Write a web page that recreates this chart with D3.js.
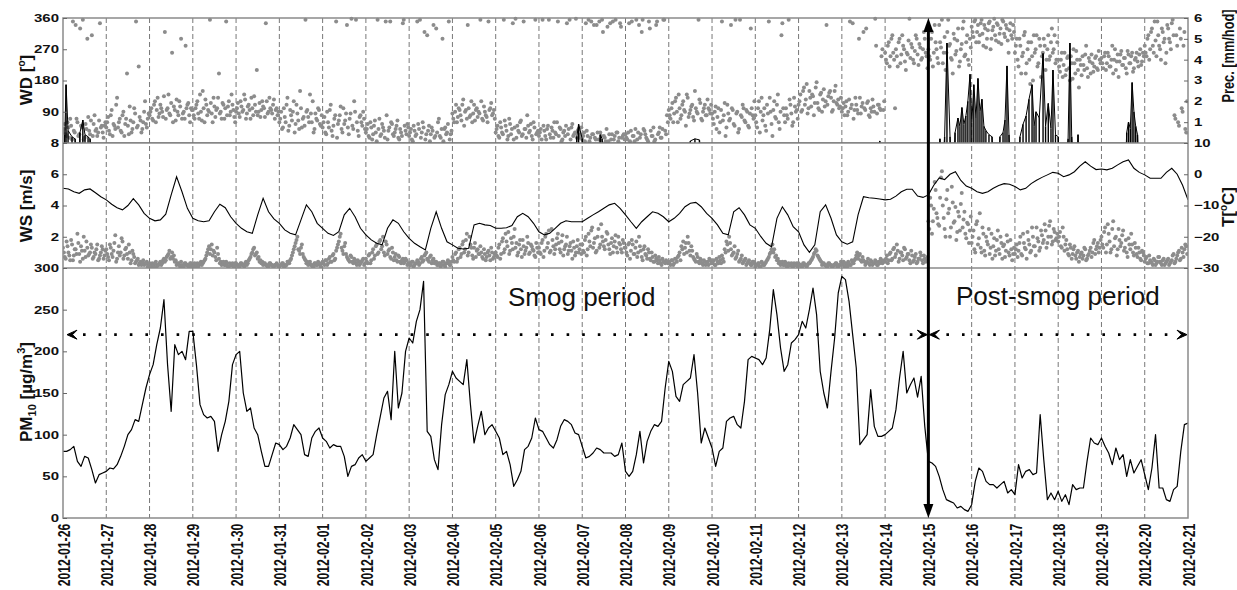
<!DOCTYPE html>
<html>
<head>
<meta charset="utf-8">
<script src="https://cdn.jsdelivr.net/npm/d3@7"></script>
<style>
  body { margin: 0; background: #fff; }
  svg { display: block; }
</style>
</head>
<body>
<div id="chart"></div>
<script>
// Smog episode Jan/Feb 2012: wind direction + precipitation, wind speed + temperature, PM10

const startDay = "2012-01-26", endDay = "2012-02-21", splitDay = "2012-02-15";

// tick values
const wdTicks = [90, 180, 270, 360];
const wsTicks = [2, 4, 6, 8];
const pmTicks = [0, 50, 100, 150, 200, 250, 300];
const precTicks = [1, 2, 3, 4, 5, 6];
const tTicks = [-30, -20, -10, 0, 10];
const limitPM = 220;   // level of the dotted period arrows

// PM10 [ug/m3], 12 readings per day (every 2 h)
const pm10 = [
  [80, 80, 82, 86, 68, 62, 74, 72, 58, 42, 52, 54],
  [56, 60, 59, 64, 74, 86, 100, 106, 118, 116, 136, 156],
  [172, 184, 208, 228, 262, 184, 128, 208, 196, 200, 190, 224],
  [224, 184, 136, 124, 120, 122, 116, 80, 100, 116, 140, 184],
  [196, 200, 150, 128, 132, 108, 100, 80, 62, 62, 76, 90],
  [88, 82, 86, 96, 112, 106, 100, 76, 74, 96, 104, 108],
  [96, 92, 84, 88, 86, 86, 74, 50, 62, 64, 72, 76],
  [68, 72, 76, 100, 122, 144, 152, 118, 200, 132, 150, 200],
  [216, 210, 236, 250, 284, 104, 98, 70, 58, 112, 148, 160],
  [176, 168, 164, 160, 190, 136, 90, 110, 128, 100, 108, 112],
  [104, 96, 76, 80, 64, 38, 46, 56, 82, 86, 96, 120],
  [106, 104, 96, 88, 84, 94, 110, 118, 116, 112, 102, 100],
  [86, 72, 74, 78, 84, 82, 78, 78, 78, 74, 76, 90],
  [56, 50, 56, 76, 104, 66, 92, 104, 112, 110, 116, 156],
  [188, 176, 146, 140, 160, 164, 168, 196, 150, 90, 108, 96],
  [84, 62, 80, 84, 116, 120, 122, 112, 108, 140, 190, 194],
  [192, 190, 184, 192, 226, 274, 244, 204, 176, 184, 210, 214],
  [220, 236, 228, 250, 276, 244, 176, 150, 132, 176, 216, 270],
  [290, 286, 260, 220, 180, 88, 94, 100, 154, 110, 98, 98],
  [100, 104, 108, 130, 168, 200, 150, 160, 168, 145, 170, 110],
  [68, 66, 62, 50, 34, 22, 20, 18, 12, 14, 10, 8],
  [16, 44, 60, 56, 44, 40, 40, 36, 40, 44, 30, 34],
  [28, 64, 48, 56, 58, 52, 54, 124, 70, 22, 30, 22],
  [32, 20, 28, 16, 40, 34, 36, 36, 68, 96, 90, 88],
  [96, 86, 78, 64, 84, 70, 76, 50, 70, 54, 62, 70],
  [52, 34, 60, 100, 36, 36, 22, 20, 34, 38, 80, 112]
];
const pm10Last = 114;

// air temperature [deg C], 8 readings per day (every 3 h)
const temp = [
  [-4.5, -4.7, -5.6, -6.1, -5.0, -4.7, -5.9, -7.2],
  [-8.2, -9.6, -10.7, -11.4, -10.0, -7.8, -9.8, -12.5],
  [-14.1, -14.9, -14.6, -12.8, -6.6, -0.8, -5.6, -10.9],
  [-14.1, -14.9, -15.2, -14.9, -12.0, -9.6, -10.7, -13.6],
  [-15.7, -17.3, -18.4, -18.9, -13.0, -7.7, -12.0, -14.3],
  [-15.7, -17.8, -18.9, -19.4, -14.6, -9.8, -12.0, -15.7],
  [-17.3, -18.9, -19.6, -18.4, -13.0, -10.9, -13.6, -17.3],
  [-19.4, -21.0, -22.1, -22.6, -17.3, -14.6, -15.7, -18.4],
  [-20.5, -22.1, -23.2, -24.2, -17.3, -12.0, -17.3, -21.6],
  [-22.6, -23.7, -23.9, -23.7, -16.2, -15.7, -16.2, -16.4],
  [-17.3, -17.3, -17.1, -16.4, -13.6, -12.5, -13.6, -15.7],
  [-18.4, -19.4, -18.9, -17.3, -15.7, -14.9, -15.2, -15.2],
  [-15.2, -14.1, -13.0, -12.0, -10.9, -9.8, -9.3, -10.9],
  [-13.0, -15.2, -17.3, -15.2, -13.6, -12.0, -12.5, -13.6],
  [-15.2, -14.1, -12.5, -10.4, -9.3, -9.0, -10.4, -12.5],
  [-14.1, -16.2, -18.9, -19.4, -12.0, -10.7, -13.0, -16.2],
  [-17.3, -19.9, -22.1, -23.2, -14.1, -10.4, -13.0, -16.8],
  [-18.4, -22.6, -25.0, -22.6, -12.0, -9.8, -14.1, -19.4],
  [-21.6, -22.4, -21.6, -13.0, -7.2, -7.5, -7.7, -7.9],
  [-8.2, -8.0, -7.0, -5.6, -4.8, -4.8, -7.0, -7.4],
  [-6.6, -3.5, -1.2, -1.7, 0.0, 0.8, -2.0, -3.8],
  [-4.5, -5.6, -6.1, -5.6, -4.5, -3.6, -3.0, -3.2],
  [-3.9, -5.0, -4.5, -3.0, -1.9, -1.0, -0.2, 0.6],
  [0.3, -0.8, -0.2, 0.8, 2.6, 4.0, 2.6, 1.5],
  [1.7, 1.4, 1.9, 3.0, 4.0, 4.6, 1.9, 0.6],
  [-0.2, -1.3, -1.3, -1.3, 0.6, 1.9, 0.0, -3.5]
];
const tempLast = -8.2;

// wind direction [deg], on the half hour
const wd = [
  [40,25,60,15,50,350,30,70,20,330,45,10,55,300,35,65,20,80,40,30,345,50,15,60],
  [60,35,80,20,50,110,45,70,30,90,55,200,25,65,40,100,350,50,75,30,60,120,45,85],
  [90,70,110,60,130,85,100,75,320,95,140,80,260,105,65,90,120,300,85,70,100,115,60,95],
  [80,100,120,70,90,150,60,110,95,355,85,130,75,100,200,90,115,70,350,105,80,140,95,60],
  [100,85,120,90,140,70,105,95,130,80,110,210,90,75,120,100,345,85,130,95,110,70,100,90],
  [70,40,100,60,130,50,80,90,30,110,65,150,45,75,355,95,60,85,120,40,70,100,55,80],
  [60,30,90,45,110,20,70,350,55,80,40,100,65,340,25,85,50,120,355,35,75,60,90,40],
  [40,20,60,10,50,30,355,70,25,45,15,80,35,350,55,20,40,65,10,30,345,50,25,45],
  [30,10,50,20,350,40,15,60,320,25,35,5,45,340,20,30,70,15,300,40,25,55,10,35],
  [70,90,60,100,80,110,50,95,340,75,120,85,65,100,90,355,70,105,80,60,95,115,85,70],
  [40,20,60,30,355,50,10,70,25,345,45,15,35,60,20,350,40,80,30,55,10,45,25,35],
  [30,10,50,20,40,355,15,35,60,25,350,45,5,30,20,345,40,10,55,25,358,35,15,45],
  [20,5,35,355,15,25,340,10,30,350,20,320,15,40,5,345,25,10,355,30,15,335,20,10],
  [15,30,5,350,20,40,10,340,25,355,35,15,5,330,20,45,10,350,30,15,40,355,25,60],
  [80,100,60,120,90,140,70,110,95,50,130,85,105,75,150,90,355,115,65,100,80,125,95,110],
  [70,90,40,100,60,350,80,20,110,65,340,95,50,85,30,355,75,100,60,90,45,330,80,120],
  [60,100,30,130,80,50,110,350,90,20,120,70,140,40,310,100,60,80,355,110,50,130,90,70],
  [120,90,150,110,170,100,130,140,80,160,115,95,145,125,105,340,135,150,90,120,165,110,100,130],
  [100,80,120,90,350,110,70,130,95,300,85,115,100,330,120,75,90,105,358,85,110,95,270,120],
  [240,280,220,300,260,100,250,290,230,310,270,210,255,358,285,240,265,300,225,275,245,320,260,215],
  [250,300,220,340,270,230,290,355,260,210,320,280,245,200,300,265,330,235,285,350,255,310,225,275],
  [320,350,290,340,310,355,280,330,300,345,270,325,358,295,340,315,285,350,305,330,260,345,300,320],
  [280,240,300,200,260,320,230,290,170,250,310,270,220,300,190,260,280,240,310,250,330,270,230,290],
  [220,240,190,260,210,250,180,230,270,200,240,160,225,250,210,280,190,235,255,205,245,215,265,230],
  [230,250,210,260,220,240,200,270,235,190,255,225,245,215,265,230,250,205,240,260,220,270,235,250],
  [260,300,240,320,280,350,250,310,270,330,290,230,340,300,270,355,80,310,60,330,100,280,40,120]
];
// wind direction [deg], on the full hour
const wd2 = [
  [30,55,20,45,70,10,35,340,60,25,50,355,15,40,75,25,310,55,35,20,65,45,30,50],
  [45,75,25,95,55,40,130,60,35,80,20,70,50,105,30,60,85,45,220,65,40,90,55,70],
  [80,100,65,120,95,75,110,90,135,70,100,85,115,60,95,125,80,105,70,90,280,110,80,100],
  [95,70,110,85,140,65,100,125,80,90,115,60,105,95,130,85,70,110,100,80,120,90,110,75],
  [90,115,75,105,95,125,85,110,70,100,135,90,80,115,95,105,75,120,90,100,85,125,95,80],
  [60,90,45,75,110,35,95,65,120,55,85,40,100,70,50,90,75,140,60,30,85,65,95,50],
  [45,75,25,60,95,35,50,80,15,65,105,30,55,85,45,70,358,40,90,60,20,80,50,70],
  [30,55,15,45,25,65,5,40,20,55,35,350,10,45,60,25,30,50,15,40,20,355,35,55],
  [20,40,5,35,25,55,355,30,45,10,310,50,25,35,15,330,60,20,40,5,45,30,350,25],
  [85,60,110,75,95,65,125,90,70,100,80,60,110,95,75,85,120,65,90,75,350,100,80,95],
  [30,50,15,45,25,65,35,20,55,40,10,358,50,30,65,25,40,15,50,35,20,60,355,30],
  [20,40,355,35,10,50,25,45,15,30,60,20,40,10,35,50,25,355,45,20,30,15,40,25],
  [10,30,345,20,5,350,25,15,340,10,30,355,20,5,335,25,10,350,20,30,5,345,15,25],
  [25,10,345,35,20,5,355,30,15,320,40,25,10,350,35,20,5,340,25,45,15,355,35,80],
  [95,70,115,85,130,60,100,80,120,90,140,75,95,110,65,100,85,125,70,90,110,80,100,85],
  [85,55,105,75,30,95,65,115,45,85,70,100,55,355,90,40,80,110,65,95,50,85,100,70],
  [80,45,120,90,65,100,35,85,130,55,95,75,110,60,90,345,80,100,70,125,85,60,105,95],
  [110,140,95,160,125,85,150,105,135,115,175,100,140,90,155,120,110,145,130,95,150,115,125,105],
  [90,115,105,80,125,100,345,95,110,85,130,105,320,95,115,80,100,125,90,280,110,100,250,95],
  [260,230,290,250,310,240,270,220,300,255,280,235,260,295,245,275,230,310,255,285,240,270,300,250],
  [270,240,320,260,290,245,340,275,230,305,260,355,285,240,315,255,295,220,270,330,250,290,240,300],
  [335,305,355,320,290,345,315,340,275,325,350,300,335,310,345,290,330,355,315,340,295,325,310,340],
  [260,300,220,280,250,310,200,270,240,290,180,260,310,230,280,250,300,210,270,240,290,260,310,240],
  [240,205,260,225,195,245,215,250,185,230,265,210,240,195,225,255,215,245,200,230,220,250,210,240],
  [245,215,260,230,250,220,280,240,210,255,235,265,225,245,200,255,230,260,215,245,235,255,225,260],
  [280,250,310,270,330,260,295,350,280,240,320,300,260,330,290,345,310,70,280,50,300,90,320,30]
];

// wind speed [m/s], on the half hour
const ws = [
  [1.0,0.6,1.4,0.8,1.8,0.5,1.2,0.9,1.6,0.4,1.1,2.0,0.7,1.3,0.9,1.5,0.6,1.0,1.2,0.5,0.8,1.4,0.6,1.1],
  [0.9,0.5,1.3,0.7,1.6,0.4,1.0,0.8,1.9,0.6,1.2,0.9,1.5,0.3,1.1,0.7,0.4,0.6,0.3,0.2,0.5,0.3,0.4,0.2],
  [0.2,0.3,0.1,0.4,0.2,0.3,0.2,0.5,0.4,0.7,0.9,0.6,1.0,0.8,0.5,0.3,0.2,0.4,0.1,0.3,0.2,0.1,0.3,0.2],
  [0.2,0.1,0.3,0.2,0.4,0.3,0.5,0.8,1.2,0.9,1.5,1.1,0.7,1.3,0.6,0.4,0.3,0.2,0.4,0.1,0.3,0.2,0.1,0.3],
  [0.2,0.1,0.3,0.2,0.1,0.4,0.3,0.6,0.9,1.2,0.8,1.0,0.7,0.5,0.4,0.3,0.2,0.1,0.3,0.2,0.1,0.2,0.3,0.1],
  [0.2,0.3,0.1,0.2,0.4,0.3,0.6,1.0,1.4,1.8,1.2,0.9,1.5,0.7,0.5,0.4,0.3,0.2,0.1,0.3,0.2,0.4,0.2,0.3],
  [0.3,0.5,0.2,0.6,0.4,0.8,0.5,1.1,1.5,2.0,1.3,0.9,1.6,0.7,0.5,0.8,0.4,0.6,0.3,0.5,0.2,0.4,0.6,0.3],
  [0.4,0.8,0.3,1.0,0.6,1.4,0.9,1.7,1.2,2.0,0.8,1.5,1.1,0.7,1.3,0.5,0.9,0.4,0.7,0.3,0.6,0.4,0.5,0.3],
  [0.2,0.4,0.1,0.3,0.5,0.2,0.6,0.4,0.8,1.0,0.5,0.7,0.3,0.6,0.4,0.2,0.3,0.1,0.4,0.2,0.3,0.5,0.2,0.4],
  [0.5,0.9,0.4,1.2,0.7,1.5,1.0,1.8,0.8,2.0,1.3,0.6,1.6,1.1,0.9,1.4,0.7,1.2,0.5,1.0,0.8,1.3,0.6,0.9],
  [0.8,1.3,0.6,1.7,1.0,2.2,1.4,0.9,1.9,1.2,2.5,1.6,1.0,1.8,0.7,1.4,1.1,2.0,0.9,1.5,1.2,0.8,1.6,1.0],
  [1.0,1.6,0.7,2.0,1.3,2.4,1.1,1.8,0.9,1.5,2.2,1.2,1.7,0.8,1.4,2.0,1.1,1.6,0.6,1.3,1.0,1.8,1.2,0.9],
  [1.1,1.8,0.8,2.2,1.4,2.6,1.6,1.0,2.0,1.3,2.8,1.7,1.2,2.3,1.5,0.9,1.9,1.4,2.1,1.0,1.6,1.2,1.8,1.3],
  [1.0,1.5,0.6,1.8,0.9,1.3,0.7,2.0,1.1,0.5,1.4,0.8,1.2,0.6,1.0,0.4,0.8,0.5,0.7,0.3,0.6,0.4,0.5,0.3],
  [0.3,0.5,0.2,0.6,0.4,0.8,0.5,1.2,0.9,1.6,2.0,1.1,1.4,0.7,0.5,0.9,0.4,0.6,0.3,0.5,0.2,0.4,0.6,0.3],
  [0.4,0.2,0.6,0.3,0.5,0.8,0.4,1.0,1.5,2.0,1.2,0.9,1.4,0.7,1.1,0.5,0.8,0.4,0.6,0.3,0.5,0.2,0.4,0.3],
  [0.2,0.3,0.1,0.4,0.2,0.3,0.5,0.7,1.0,1.5,1.2,0.8,0.6,0.4,0.3,0.2,0.4,0.1,0.3,0.2,0.1,0.3,0.2,0.1],
  [0.2,0.1,0.3,0.2,0.1,0.3,0.4,0.6,0.9,1.2,0.8,0.6,0.4,0.3,0.2,0.1,0.3,0.2,0.1,0.2,0.3,0.1,0.2,0.4],
  [0.3,0.1,0.2,0.4,0.2,0.5,0.3,0.6,1.0,0.8,0.5,0.7,0.4,0.3,0.6,0.2,0.4,0.3,0.5,0.2,0.4,0.6,0.3,0.5],
  [0.6,0.3,0.9,0.5,1.2,0.7,1.5,0.4,1.0,0.8,1.3,0.6,0.9,0.5,1.1,0.4,0.7,0.3,0.6,1.0,0.5,0.8,0.4,0.7],
  [2.5,4.0,3.0,5.5,3.5,2.8,4.5,6.2,3.2,2.0,5.0,3.8,2.6,4.2,3.0,1.8,3.6,2.4,4.8,3.1,2.2,2.9,1.6,3.3],
  [2.0,1.2,2.8,1.5,3.5,1.0,2.2,0.8,1.7,2.5,1.3,0.6,1.9,1.1,2.4,0.9,1.6,1.4,0.7,2.1,1.0,1.8,0.5,1.3],
  [1.2,0.7,1.6,0.9,2.2,1.3,0.6,1.8,1.0,2.6,1.4,0.8,1.9,1.1,2.4,1.6,2.8,1.3,2.0,3.0,1.5,2.5,1.8,2.2],
  [2.0,1.4,2.6,1.1,1.8,0.9,1.5,0.6,1.2,0.8,1.0,0.4,0.9,0.6,1.3,0.5,0.8,1.1,0.7,1.6,0.9,1.4,1.0,1.8],
  [1.5,2.3,1.0,2.8,1.7,1.2,3.0,1.9,0.8,2.5,1.4,2.1,1.1,1.8,0.7,1.5,2.2,1.0,1.6,0.9,1.3,0.6,1.1,0.8],
  [0.6,0.3,0.8,0.4,0.2,0.5,0.3,0.7,0.4,0.2,0.6,0.3,0.5,0.2,0.4,0.8,0.3,0.6,1.0,0.5,1.3,0.7,1.5,0.9]
];
// wind speed [m/s], on the full hour
const ws2 = [
  [1.3,0.7,1.7,1.0,0.5,1.5,0.8,1.2,2.2,0.9,1.4,0.6,1.1,1.7,0.8,1.0,1.3,0.7,0.9,1.5,0.6,1.0,1.2,0.8],
  [1.2,0.7,1.5,0.9,1.1,2.1,0.6,1.4,1.0,1.7,0.8,1.3,0.6,1.0,0.5,0.9,0.3,0.5,0.2,0.4,0.3,0.2,0.3,0.1],
  [0.3,0.1,0.2,0.3,0.1,0.2,0.4,0.3,0.6,0.5,0.8,1.1,0.7,0.6,0.4,0.2,0.3,0.1,0.2,0.1,0.3,0.2,0.1,0.3],
  [0.1,0.3,0.2,0.1,0.3,0.2,0.4,0.6,1.0,1.4,1.2,0.8,1.0,0.5,0.9,0.3,0.2,0.4,0.2,0.3,0.1,0.2,0.3,0.1],
  [0.3,0.2,0.1,0.3,0.2,0.3,0.2,0.5,0.7,1.0,1.3,0.9,0.6,0.4,0.3,0.2,0.3,0.2,0.1,0.3,0.2,0.1,0.2,0.2],
  [0.1,0.2,0.3,0.1,0.2,0.4,0.5,0.8,1.2,1.6,2.0,1.1,1.3,0.9,0.6,0.3,0.2,0.4,0.2,0.1,0.3,0.2,0.3,0.1],
  [0.4,0.2,0.5,0.3,0.7,0.4,0.9,0.6,1.3,1.7,2.2,1.1,1.4,0.9,0.6,0.4,0.7,0.3,0.5,0.2,0.4,0.3,0.5,0.2],
  [0.6,0.3,0.9,0.5,1.2,0.8,1.5,1.0,1.8,1.4,1.0,1.7,0.9,1.2,0.6,1.0,0.7,0.5,0.8,0.4,0.5,0.3,0.6,0.2],
  [0.3,0.2,0.4,0.2,0.3,0.4,0.3,0.7,0.5,0.9,0.6,0.4,0.8,0.5,0.3,0.4,0.2,0.3,0.2,0.4,0.1,0.3,0.4,0.2],
  [0.7,0.4,1.0,0.6,1.3,0.9,1.7,1.2,2.2,1.0,1.5,0.8,1.3,0.7,1.2,0.9,1.0,0.6,0.9,0.7,1.1,0.5,1.0,0.7],
  [1.0,0.7,1.5,0.9,1.9,1.2,1.7,2.3,1.1,1.6,2.0,1.3,0.8,1.5,1.2,1.8,0.9,1.3,1.6,1.0,1.4,1.1,0.7,1.3],
  [1.3,0.9,1.8,1.1,2.2,1.6,1.0,2.5,1.4,1.2,1.9,1.6,1.0,2.1,1.2,1.5,0.9,1.4,1.1,1.7,0.8,1.4,1.0,1.5],
  [1.5,1.0,2.0,1.2,1.7,2.4,1.3,1.9,1.1,2.5,1.5,2.0,1.4,1.8,2.2,1.2,1.6,1.0,1.7,1.3,2.0,1.5,1.0,1.6],
  [1.3,0.8,1.6,1.1,1.5,0.9,1.7,1.0,1.4,0.7,1.2,0.9,0.6,1.0,0.5,0.7,0.4,0.6,0.3,0.5,0.2,0.4,0.3,0.4],
  [0.4,0.2,0.5,0.3,0.6,0.7,1.0,1.4,1.7,1.3,1.0,1.6,0.8,1.1,0.6,0.4,0.7,0.3,0.5,0.2,0.4,0.3,0.2,0.5],
  [0.3,0.5,0.2,0.4,0.7,0.3,0.6,1.2,1.7,1.1,1.6,0.8,1.0,0.6,0.9,0.4,0.6,0.3,0.5,0.2,0.4,0.3,0.2,0.4],
  [0.1,0.2,0.3,0.1,0.3,0.2,0.4,0.6,0.9,1.2,1.0,0.7,0.5,0.3,0.2,0.4,0.2,0.3,0.1,0.2,0.3,0.1,0.2,0.3],
  [0.3,0.2,0.1,0.3,0.2,0.2,0.3,0.5,0.7,1.0,1.1,0.7,0.5,0.2,0.3,0.2,0.1,0.3,0.2,0.1,0.2,0.3,0.1,0.2],
  [0.2,0.4,0.3,0.1,0.3,0.2,0.4,0.5,0.8,0.6,0.9,0.4,0.5,0.2,0.4,0.3,0.5,0.2,0.3,0.4,0.2,0.3,0.5,0.4],
  [0.4,0.8,0.5,1.0,0.6,1.3,0.9,1.1,0.6,1.0,0.5,1.2,0.7,0.9,0.3,0.8,0.5,0.9,0.4,0.6,0.8,0.3,0.6,0.5],
  [3.0,4.5,2.2,3.8,5.0,3.2,2.7,5.8,4.0,2.5,4.4,3.5,2.0,5.2,2.9,3.9,2.3,3.3,4.1,2.6,3.6,1.9,2.8,2.4],
  [1.6,2.4,1.0,3.0,1.9,1.3,2.6,1.1,2.0,1.5,0.9,2.2,1.4,0.8,1.8,1.2,2.0,0.6,1.5,1.1,1.7,0.8,1.2,0.9],
  [0.9,1.5,1.1,2.0,0.8,1.6,1.2,2.3,1.5,1.1,2.0,1.4,2.6,1.7,1.3,2.1,1.8,2.4,1.6,2.7,2.0,1.7,2.3,1.9],
  [1.7,2.3,1.3,2.0,1.5,1.2,0.8,1.3,0.9,1.4,0.6,1.1,0.7,1.0,0.8,1.2,0.6,0.9,1.3,1.0,1.8,1.2,1.6,1.3],
  [2.0,1.3,2.6,1.5,2.2,1.0,2.5,1.4,2.0,1.2,1.8,1.6,2.4,1.3,1.0,1.9,1.2,1.5,0.8,1.3,0.7,1.0,0.5,1.0],
  [0.4,0.7,0.3,0.5,0.3,0.6,0.2,0.4,0.7,0.3,0.5,0.2,0.4,0.6,0.3,0.5,0.9,0.4,0.8,1.1,0.6,1.0,1.2,1.4]
];

// precipitation [mm/hod]: hours since start, amount
const precHour = [1, 1.7, 2.8, 5, 6.7, 9.4, 11, 12.2, 13.9, 15, 285, 286, 288, 298, 299, 348, 350.5, 353, 453,
  486.4, 489, 490.3, 492, 494.8, 496.4, 497.5, 498.6, 499.7, 500.8, 501.9, 503.1, 504.1, 505.2, 506.4, 507.5, 508.6, 509.7, 510.8, 511.9, 513.6, 515.3,
  519.7, 521.4, 522.5, 523.6, 524.7,
  530.8, 532.5, 534.2, 535.8, 537.5, 538.6, 539.7, 541.5, 543.6, 545, 546.5, 548, 549.1, 550.5, 552,
  557.5, 558.5, 559.5, 563,
  590, 591, 592, 593, 594, 595, 596];
const precMM = [0.4, 2.8, 0.6, 0.3, 0.2, 0.5, 1.1, 0.4, 0.3, 0.2, 0.3, 0.9, 0.2, 0.4, 0.2, 0.1, 0.2, 0.15, 0.1,
  0.2, 0.3, 4.8, 0.3, 0.5, 1.2, 0.8, 1.7, 0.9, 1.3, 2.0, 3.3, 1.0, 2.8, 1.2, 3.1, 1.5, 2.1, 0.8, 0.6, 0.4, 0.3,
  0.3, 0.5, 1.1, 3.7, 0.4,
  0.3, 0.9, 1.3, 2.1, 2.8, 0.8, 1.5, 1.2, 4.3, 0.8, 1.9, 0.7, 3.5, 0.4, 0.3,
  0.2, 4.8, 0.3, 0.4,
  0.5, 1.0, 0.7, 2.9, 1.5, 0.8, 0.4];

// ---------------- layout ----------------
const width = 1237, height = 590;
const left = 63, right = 1188;
const yTop = 18, yA = 143, yB = 268, yBot = 518;
const dotColor = "#8c8c8c", frameColor = "#8a8a8a";
const squash = 0.72;   // the original picture is flattened vertically

const parseDay = d3.utcParse("%Y-%m-%d");
const t0 = parseDay(startDay), t1 = parseDay(endDay), tSplit = parseDay(splitDay);
const atHour = h => new Date(+t0 + h * 3600e3);

// flatten per-day arrays into {t, v}; shift = hours added to each reading
const byDay = (arr, last, shift = 0) => {
  const out = [];
  arr.forEach((day, d) => day.forEach((v, j) => out.push({ t: atHour(d * 24 + j * 24 / day.length + shift), v })));
  if (last !== undefined) out.push({ t: atHour(arr.length * 24), v: last });
  return out;
};
const pmData = byDay(pm10, pm10Last);
const tData = byDay(temp, tempLast);
const wdData = byDay(wd, undefined, 0.5).concat(byDay(wd2, undefined, 0));
const wsData = byDay(ws, undefined, 0.5).concat(byDay(ws2, undefined, 0));
const precData = precHour.map((h, i) => ({ h, v: precMM[i] }));

// precipitation trace: back to zero where readings are more than 2.5 h apart
const precTrace = [];
precData.forEach((d, i) => {
  const prev = precData[i - 1], next = precData[i + 1];
  if (!prev || d.h - prev.h > 2.5) precTrace.push({ h: d.h - 0.2, v: 0 });
  precTrace.push(d);
  if (!next || next.h - d.h > 2.5) precTrace.push({ h: d.h + 0.2, v: 0 });
});

const x = d3.scaleUtc().domain([t0, t1]).range([left, right]);
const yWD = d3.scaleLinear().domain([0, 360]).range([yA, yTop]);
const yPrec = d3.scaleLinear().domain([0, 6]).range([yA, yTop]);
const yWS = d3.scaleLinear().domain([0, 8]).range([yB, yA]);
const yT = d3.scaleLinear().domain([-30, 10]).range([yB, yA]);
const yPM = d3.scaleLinear().domain([0, 300]).range([yBot, yB]);

const svg = d3.select("#chart").append("svg")
    .attr("width", width)
    .attr("height", height)
    .style("font-family", "'Liberation Sans', Arial, sans-serif");

// clip paths for the panels
const defs = svg.append("defs");
[["clipTop", yTop, yA], ["clipMid", yA, yB], ["clipBot", yB, yBot]].forEach(([id, a, b]) => {
  defs.append("clipPath").attr("id", id)
    .append("rect").attr("x", left).attr("y", a - 2).attr("width", right - left).attr("height", b - a + 2);
});

// day grid lines (dashed)
svg.append("g")
  .selectAll("line")
  .data(d3.utcDay.range(d3.utcDay.offset(t0, 1), t1))
  .join("line")
    .attr("x1", d => x(d)).attr("x2", d => x(d))
    .attr("y1", yTop).attr("y2", yBot)
    .attr("stroke", "#555")
    .attr("stroke-width", 0.8)
    .attr("stroke-dasharray", "5,3");

// wind direction dots
svg.append("g").attr("clip-path", "url(#clipTop)")
  .selectAll("circle")
  .data(wdData)
  .join("circle")
    .attr("cx", d => x(d.t))
    .attr("cy", d => yWD(d.v))
    .attr("r", 2)
    .attr("fill", dotColor);

// precipitation: zig-zag trace + sticks
svg.append("path")
    .datum(precTrace)
    .attr("clip-path", "url(#clipTop)")
    .attr("fill", "none")
    .attr("stroke", "#000")
    .attr("stroke-width", 1)
    .attr("d", d3.line().x(d => x(atHour(d.h))).y(d => yPrec(d.v)));
svg.append("g").attr("clip-path", "url(#clipTop)")
  .selectAll("line")
  .data(precData)
  .join("line")
    .attr("x1", d => x(atHour(d.h))).attr("x2", d => x(atHour(d.h)))
    .attr("y1", yPrec(0)).attr("y2", d => yPrec(d.v))
    .attr("stroke", "#000")
    .attr("stroke-width", 1.4);

// wind speed dots
svg.append("g").attr("clip-path", "url(#clipMid)")
  .selectAll("circle")
  .data(wsData)
  .join("circle")
    .attr("cx", d => x(d.t))
    .attr("cy", d => yWS(d.v))
    .attr("r", 2)
    .attr("fill", dotColor);

// temperature line
svg.append("path")
    .datum(tData)
    .attr("clip-path", "url(#clipMid)")
    .attr("fill", "none")
    .attr("stroke", "#000")
    .attr("stroke-width", 1.1)
    .attr("d", d3.line().x(d => x(d.t)).y(d => yT(d.v)));

// PM10 line
svg.append("path")
    .datum(pmData)
    .attr("clip-path", "url(#clipBot)")
    .attr("fill", "none")
    .attr("stroke", "#000")
    .attr("stroke-width", 1.2)
    .attr("stroke-linejoin", "round")
    .attr("d", d3.line().x(d => x(d.t)).y(d => yPM(d.v)));

// frame and panel separators
svg.append("rect")
    .attr("x", left).attr("y", yTop)
    .attr("width", right - left).attr("height", yBot - yTop)
    .attr("fill", "none")
    .attr("stroke", frameColor)
    .attr("stroke-width", 1.5);
[yA, yB].forEach(yy => svg.append("line")
    .attr("x1", left).attr("x2", right).attr("y1", yy).attr("y2", yy)
    .attr("stroke", frameColor).attr("stroke-width", 1.5));

// axes
function styleAxis(g) {
  g.select(".domain").remove();
  g.selectAll(".tick line").attr("stroke", "#666");
  g.selectAll(".tick text")
    .attr("font-size", 15)
    .attr("font-weight", "bold")
    .attr("fill", "#111")
    .attr("transform", `scale(1,${squash})`);
}
const intFmt = d3.format("d");
svg.append("g").attr("transform", `translate(${left},0)`)
  .call(d3.axisLeft(yWD).tickValues(wdTicks).tickFormat(intFmt).tickSize(-4).tickPadding(4)).call(styleAxis);
svg.append("g").attr("transform", `translate(${left},0)`)
  .call(d3.axisLeft(yWS).tickValues(wsTicks).tickFormat(intFmt).tickSize(-4).tickPadding(4)).call(styleAxis);
svg.append("g").attr("transform", `translate(${left},0)`)
  .call(d3.axisLeft(yPM).tickValues(pmTicks).tickFormat(intFmt).tickSize(-4).tickPadding(4)).call(styleAxis);
svg.append("g").attr("transform", `translate(${right},0)`)
  .call(d3.axisRight(yPrec).tickValues(precTicks).tickFormat(intFmt).tickSize(-4).tickPadding(6)).call(styleAxis);
svg.append("g").attr("transform", `translate(${right},0)`)
  .call(d3.axisRight(yT).tickValues(tTicks).tickFormat(intFmt).tickSize(-4).tickPadding(6)).call(styleAxis);

// date labels
const xAxis = svg.append("g").attr("transform", `translate(0,${yBot})`)
  .call(d3.axisBottom(x).ticks(d3.utcDay.every(1)).tickFormat(d3.utcFormat("%Y-%m-%d")).tickSize(0));
xAxis.select(".domain").remove();
xAxis.selectAll(".tick text")
    .attr("font-size", 17)
    .attr("font-weight", "bold")
    .attr("fill", "#111")
    .attr("text-anchor", "end")
    .attr("x", -8)
    .attr("y", 0)
    .attr("dy", "0.36em")
    .attr("transform", `rotate(-90) scale(${squash},1)`);

// axis titles (rotated)
function vTitle(xb, yc, parts, size, k) {
  const t = svg.append("text")
    .attr("transform", `translate(${xb},${yc}) rotate(-90) scale(${k},1)`)
    .attr("text-anchor", "middle")
    .attr("font-size", size)
    .attr("font-weight", "bold")
    .attr("fill", "#111");
  parts.forEach(p => t.append("tspan").attr("dy", p.dy || 0).attr("font-size", p.s || null).text(p.t));
}
vTitle(32, 80, [{ t: "WD [" }, { t: "o", s: 10, dy: -7 }, { t: "]", dy: 7 }], 17, 1);
vTitle(32, 206, [{ t: "WS [m/s]" }], 17, 1);
vTitle(32, 392, [{ t: "PM" }, { t: "10", s: 11, dy: 4 }, { t: " [µg/m", dy: -4 }, { t: "3", s: 11, dy: -7 }, { t: "]", dy: 7 }], 17, 1);
vTitle(1234, 56, [{ t: "Prec.  [mm/hod]" }], 16, 0.8);
vTitle(1234, 207, [{ t: "T[" }, { t: "o", s: 10, dy: -7 }, { t: "C]", dy: 7 }], 17, 1);

// period arrows
const xSplit = x(tSplit);
const yLim = yPM(limitPM);
function dotted(xa, xb) {
  svg.append("line")
    .attr("x1", xa).attr("x2", xb).attr("y1", yLim).attr("y2", yLim)
    .attr("stroke", "#000").attr("stroke-width", 2.6)
    .attr("stroke-dasharray", "2.6,13");
}
function head(tipX, dir) {
  // notched arrow head, dir = 1 points right, -1 points left
  const l = 10 * dir;
  svg.append("path")
    .attr("d", `M${tipX},${yLim} L${tipX - l},${yLim - 4.5} L${tipX - l * 0.55},${yLim} L${tipX - l},${yLim + 4.5} Z`)
    .attr("fill", "#000").attr("stroke", "#000").attr("stroke-width", 1);
}
dotted(83, xSplit - 10);
head(67, -1);
head(xSplit - 1, 1);
dotted(xSplit + 18, right - 8);
head(xSplit + 1, -1);
head(right - 1, 1);

// vertical double arrow at the split day
svg.append("line")
    .attr("x1", xSplit).attr("x2", xSplit)
    .attr("y1", yTop + 10).attr("y2", yBot - 10)
    .attr("stroke", "#000").attr("stroke-width", 3);
svg.append("path")
    .attr("d", `M${xSplit},${yTop} L${xSplit - 5},${yTop + 14} L${xSplit + 5},${yTop + 14} Z`)
    .attr("fill", "#000");
svg.append("path")
    .attr("d", `M${xSplit},${yBot} L${xSplit - 5},${yBot - 14} L${xSplit + 5},${yBot - 14} Z`)
    .attr("fill", "#000");

// period names
svg.append("text")
    .attr("x", 508).attr("y", 306)
    .attr("font-size", 26)
    .attr("fill", "#111")
    .text("Smog period");
svg.append("text")
    .attr("x", 956).attr("y", 305)
    .attr("font-size", 26)
    .attr("fill", "#111")
    .text("Post-smog period");
</script>
</body>
</html>
